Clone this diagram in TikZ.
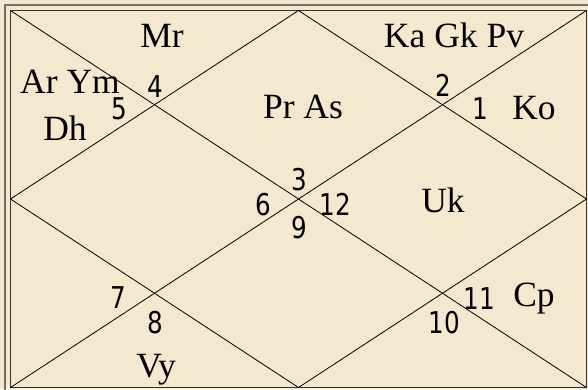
\documentclass[tikz,border=0pt]{standalone}
\usepackage{fontspec}
\setmainfont{Liberation Serif}
\newfontfamily\numfont[FakeStretch=0.82]{DejaVu Sans}
\usetikzlibrary{calc}
\definecolor{chartbg}{RGB}{244,233,206}
\definecolor{framegray}{RGB}{120,112,98}
\definecolor{linegray}{RGB}{55,52,48}

\begin{document}
\begin{tikzpicture}[x=1pt,y=-1pt,
 planet/.style={font=\fontsize{35.5}{38}\selectfont,anchor=base,inner sep=0pt},
 house/.style={font=\numfont\fontsize{30}{32}\selectfont,anchor=base,inner sep=0pt}]
 \useasboundingbox[fill=chartbg] (0,0) rectangle (588,389);
 % frame
 \draw[line width=2pt,framegray] (4.5,4.5) rectangle (600,400);
 \coordinate (tl) at (10.5,10.5);
 \coordinate (tr) at (586.5,10.5);
 \coordinate (br) at (586.5,387.5);
 \coordinate (bl) at (10.5,387.5);
 \coordinate (t) at ($(tl)!.5!(tr)$);
 \coordinate (r) at ($(tr)!.5!(br)$);
 \coordinate (b) at ($(bl)!.5!(br)$);
 \coordinate (l) at ($(tl)!.5!(bl)$);
 \draw[line width=1.2pt,linegray] (tl) rectangle (br);
 \draw[line width=.8pt] (tl)--(br) (tr)--(bl);
 \draw[line width=.8pt] (t)--(r)--(b)--(l)--cycle;
 % planets
 \node[planet] (mr) at (162,47) {Mr};
 \node[planet] (kagkpv) at (454,47) {Ka Gk Pv};
 \node[planet] (arym) at (70,93) {Ar Ym};
 \node[planet] (dh) at (65,140) {Dh};
 \node[planet] (pras) at (303,118) {Pr As};
 \node[planet] (ko) at (534,119) {Ko};
 \node[planet] (uk) at (443,212) {Uk};
 \node[planet] (cp) at (534,306) {Cp};
 \node[planet] (vy) at (156,377) {Vy};
 % houses
 \node[house] (h1) at (480,119) {1};
 \node[house] (h2) at (443.5,96) {2};
 \node[house] (h3) at (299.5,190) {3};
 \node[house] (h4) at (155,97) {4};
 \node[house] (h5) at (119,119) {5};
 \node[house] (h6) at (263,215) {6};
 \node[house] (h7) at (118.5,308) {7};
 \node[house] (h8) at (155,333) {8};
 \node[house] (h9) at (299.5,238) {9};
 \node[house] (h10) at (444.5,333) {10};
 \node[house] (h11) at (479,309) {11};
 \node[house] (h12) at (335,215) {12};
\end{tikzpicture}
\end{document}
